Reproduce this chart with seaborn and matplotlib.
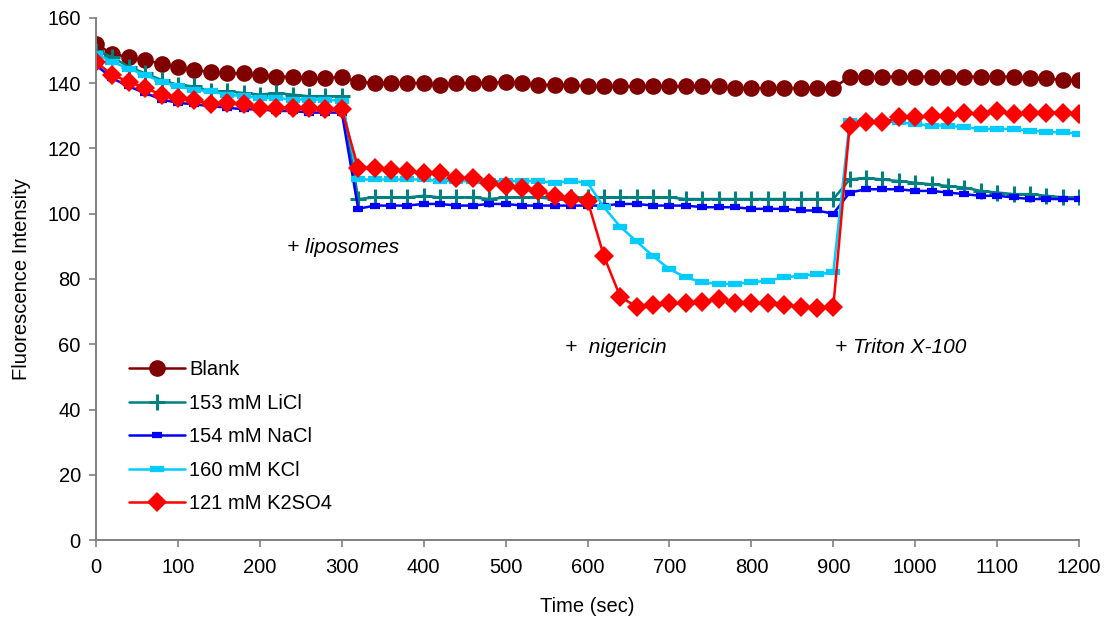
import numpy as np
import pandas as pd
import matplotlib
matplotlib.use("Agg")
import matplotlib.pyplot as plt
import seaborn as sns

# time axis (sec), one reading every 20 s
time = np.arange(0, 1201, 20)

blank = [152, 149, 148, 147, 146, 145, 144, 143.5, 143, 143, 142.5, 142, 142, 141.5, 141.5, 142,
         140.3, 140.2, 140, 140, 140, 139.5, 140, 140, 140, 140.5, 140, 139.5, 139.5, 139.5, 139,
         139, 139, 139, 139, 139, 139, 139, 139, 138.5, 138.5, 138.5, 138.5, 138.5, 138.5, 138.5,
         142, 142, 142, 142, 142, 142, 142, 142, 142, 142, 142, 141.5, 141.5, 141, 141]

licl = [150, 148, 145, 143, 141, 139.5, 139, 137.5, 137.5, 137, 136.5, 137, 136.5, 136, 136, 136,
        104.5, 105, 105, 105, 105.5, 105, 105, 105, 104.5, 105, 105, 105, 104.5, 105, 105,
        105, 105, 105, 105, 105, 104.5, 104.5, 104.5, 104.5, 104.5, 104.5, 104.5, 104.5, 104.5, 104.5,
        110.5, 111, 110.5, 110, 109.5, 109, 108.5, 108, 107, 106.5, 106, 106, 105.5, 105, 105]

nacl = [145.5, 141.5, 139, 137, 135, 134, 133.5, 133, 132.5, 132, 132, 131.5, 131.5, 131, 131, 131,
        101.5, 102.5, 102.5, 102.5, 103, 103, 102.5, 102.5, 103, 103, 102.5, 102.5, 102.5, 102.5, 102.5,
        102.5, 103, 103, 102.5, 102.5, 102.5, 102, 102, 102, 101.5, 101.5, 101.5, 101, 101, 100,
        106.5, 107.5, 107.5, 107.5, 107, 107, 106.5, 106, 105.5, 105.5, 105, 104.5, 104.5, 104.5, 104.5]

kcl = [149, 146.5, 144.5, 142.5, 140.5, 139, 138, 137.5, 136.5, 136, 135.5, 135.5, 135, 135, 135, 134.5,
       110.5, 110.5, 110.5, 110.5, 110.5, 110, 110, 110, 110, 110, 110, 110, 109.5, 110, 109.5,
       102, 96, 91.5, 87, 83, 80.5, 79, 78.5, 78.5, 79, 79.5, 80.5, 81, 81.5, 82,
       128.5, 128.5, 128.5, 128, 127.5, 127, 127, 126.5, 126, 126, 126, 125.5, 125, 125, 124.5]

k2so4 = [146.5, 142.5, 140.5, 138.5, 136.5, 135.5, 135, 133.5, 134, 133.5, 132.5, 132.5, 132.5, 132.5, 132, 132,
         114, 114, 113.5, 113, 112.5, 112.5, 111, 111, 109.5, 108.5, 108, 107, 105.5, 104.5, 104,
         87, 74.5, 71.5, 72, 72.5, 72.5, 73, 74, 72.5, 72.5, 72.5, 72, 71.5, 71, 71.5,
         127, 128, 128, 129.5, 129.5, 130, 130, 131, 130.5, 131.5, 130.5, 131, 131, 131, 130.5]

labels = ["Blank", "153 mM LiCl", "154 mM NaCl", "160 mM KCl", "121 mM K2SO4"]
colors = ["#800000", "#008080", "#0000FF", "#00CCFF", "#FF0000"]

# marker style per series
styles = [
    dict(marker="o", markersize=12, markeredgewidth=0),
    dict(marker="+", markersize=11, markeredgewidth=2.2),
    dict(marker="_", markersize=6.5, markeredgewidth=4.5),
    dict(marker="_", markersize=10, markeredgewidth=4.5),
    dict(marker="D", markersize=10, markeredgewidth=0),
]

sns.set_style("white")
plt.rcParams["font.family"] = ["Liberation Sans", "DejaVu Sans"]
plt.rcParams["text.color"] = "black"
plt.rcParams["axes.labelcolor"] = "black"
plt.rcParams["xtick.labelcolor"] = "black"
plt.rcParams["ytick.labelcolor"] = "black"

fig = plt.figure(figsize=(11.13, 6.24), dpi=100)
ax = fig.add_axes([0.0863, 0.1346, 0.8832, 0.8366])

for vals, lab, col, st in zip([blank, licl, nacl, kcl, k2so4], labels, colors, styles):
    df = pd.DataFrame({"time": time, "value": vals})
    sns.lineplot(data=df, x="time", y="value", ax=ax, color=col, label=lab,
                 linewidth=1.8, markeredgecolor=col, markerfacecolor=col, **st)

ax.set_xlim(0, 1200)
ax.set_ylim(0, 160)
ax.set_xticks(range(0, 1201, 100))
ax.set_yticks(range(0, 161, 20))
ax.set_xlabel("Time (sec)", fontsize=14.5, labelpad=14)
ax.set_ylabel("Fluorescence Intensity", fontsize=14.5, labelpad=12)
ax.tick_params(axis="both", labelsize=14.5, direction="out", length=5, width=1.2, color="#808080",
               bottom=True, left=True)
ax.tick_params(axis="x", pad=8)
ax.tick_params(axis="y", pad=6)

for s in ["top", "right"]:
    ax.spines[s].set_visible(False)
for s in ["left", "bottom"]:
    ax.spines[s].set_color("#808080")
    ax.spines[s].set_linewidth(1.4)

# annotations
ax.text(233, 89.5, "+ liposomes", fontsize=15, style="italic", va="center")
ax.text(573, 59, "+  nigericin", fontsize=15, style="italic", va="center")
ax.text(902, 59, "+ Triton X-100", fontsize=15, style="italic", va="center")

ax.legend(loc="upper left", bbox_to_anchor=(0.025, 0.36), frameon=False, fontsize=14.5,
          handlelength=2.8, labelspacing=0.72, handletextpad=0.2, borderaxespad=0)

fig.savefig("out.png", dpi=100)
